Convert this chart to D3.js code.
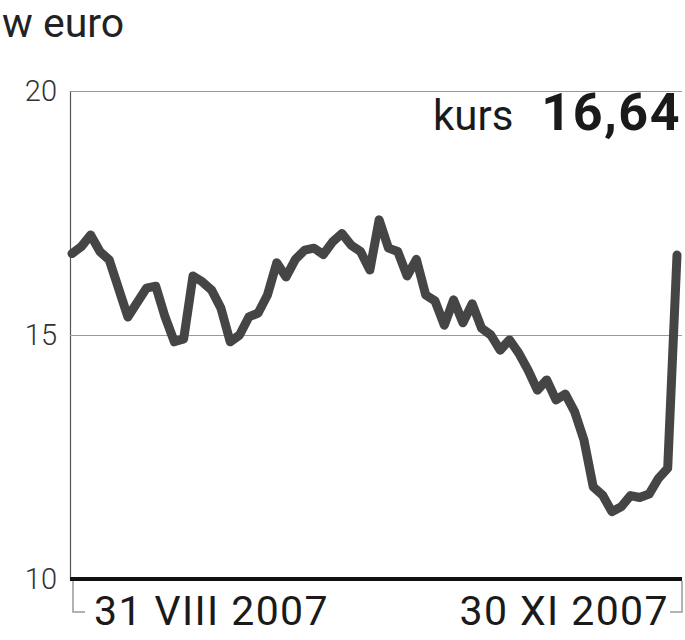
<!DOCTYPE html>
<html>
<head>
<meta charset="utf-8">
<script src="https://cdn.jsdelivr.net/npm/d3@7"></script>
<style>
	body { margin: 0; background: #fff; }
	svg { display: block; font-family: Roboto, "Open Sans", sans-serif; }
</style>
</head>
<body>
<div id="chart"></div>
<script>
"use strict";

// trading day index (0 = 31 VIII 2007, 65 = 30 XI 2007) and closing price in euro
const days = [0, 1, 2, 3, 4, 6, 8, 9, 10, 11, 12, 13, 14, 15, 16, 17, 18, 19, 20, 21,
	22, 23, 24, 25, 26, 27, 28, 29, 30, 31, 32, 33, 34, 35, 36, 37, 38, 39, 40, 41,
	42, 43, 44, 45, 46, 47, 48, 49, 50, 51, 52, 53, 54, 55, 56, 57, 58, 59, 60, 61,
	62, 63, 64, 65];
const kurs = [16.67, 16.81, 17.05, 16.71, 16.54, 15.37, 15.96, 16.0, 15.37, 14.86,
	14.92, 16.21, 16.09, 15.92, 15.55, 14.86, 15.0, 15.37, 15.45, 15.82,
	16.48, 16.19, 16.55, 16.74, 16.78, 16.65, 16.91, 17.08, 16.84, 16.71,
	16.33, 17.36, 16.78, 16.71, 16.21, 16.55, 15.82, 15.70, 15.20, 15.72,
	15.25, 15.64, 15.14, 15.0, 14.69, 14.90, 14.63, 14.28, 13.87, 14.08,
	13.67, 13.79, 13.43, 12.85, 11.89, 11.72, 11.38, 11.48, 11.71, 11.67,
	11.74, 12.06, 12.27, 16.64];
const yTicks = [10, 15, 20];
const dateLabels = ["31 VIII 2007", "30 XI 2007"];
const unitLabel = "w euro";
const lastLabel = "kurs";
const lastValue = "16,64";

const W = 685, H = 640;
const m = { left: 70, right: 682, top: 91, bottom: 579 };

const svg = d3.select("#chart").append("svg")
	.attr("width", W)
	.attr("height", H);

const x = d3.scaleLinear().domain([0, 65]).range([72, 677]);
const y = d3.scaleLinear().domain([10, 20]).range([m.bottom, m.top]);

// unit
svg.append("text")
	.attr("x", 2)
	.attr("y", 37)
	.attr("font-size", 41)
	.attr("fill", "#222")
	.text(unitLabel);

// gridlines + left axis
const yAxis = d3.axisLeft(y)
	.tickValues(yTicks)
	.tickSize(-(m.right - m.left))
	.tickPadding(13)
	.tickFormat(d3.format("d"));

const gAxis = svg.append("g")
	.attr("transform", `translate(${m.left},0)`)
	.call(yAxis);
gAxis.select(".domain").attr("stroke", "#555").attr("stroke-width", 1.2);
gAxis.selectAll(".tick line").attr("stroke", "#999").attr("stroke-width", 1.2);
gAxis.selectAll(".tick text")
	.attr("font-size", 29)
	.attr("font-weight", 300)
	.attr("fill", "#333")
	.attr("font-family", "Roboto, sans-serif");

// date bracket
const bracket = svg.append("g")
	.attr("fill", "none")
	.attr("stroke", "#999")
	.attr("stroke-width", 1.5);
bracket.append("path").attr("d", `M${m.left + 3},${m.bottom + 2}V612H85`);
bracket.append("path").attr("d", `M${m.right},${m.bottom + 2}V612H670`);

svg.append("text")
	.attr("x", 94)
	.attr("y", 625)
	.attr("font-size", 41)
	.attr("letter-spacing", 1.4)
	.attr("fill", "#1a1a1a")
	.text(dateLabels[0]);
svg.append("text")
	.attr("x", 669)
	.attr("y", 625)
	.attr("text-anchor", "end")
	.attr("font-size", 41)
	.attr("letter-spacing", 1.4)
	.attr("fill", "#1a1a1a")
	.text(dateLabels[1]);

// price line
const line = d3.line()
	.x((d, i) => x(days[i]))
	.y((d) => y(d))
	.curve(d3.curveLinear);

svg.append("path")
	.datum(kurs)
	.attr("fill", "none")
	.attr("stroke", "#454545")
	.attr("stroke-width", 9)
	.attr("stroke-linejoin", "round")
	.attr("stroke-linecap", "round")
	.attr("d", line);

// baseline
svg.append("line")
	.attr("x1", m.left)
	.attr("x2", m.right)
	.attr("y1", m.bottom)
	.attr("y2", m.bottom)
	.attr("stroke", "#111")
	.attr("stroke-width", 4);

// last value
svg.append("text")
	.attr("x", 433)
	.attr("y", 130)
	.attr("font-size", 42)
	.attr("fill", "#1a1a1a")
	.text(lastLabel);
svg.append("text")
	.attr("x", 681)
	.attr("y", 130)
	.attr("text-anchor", "end")
	.attr("font-size", 52)
	.attr("font-weight", 700)
	.attr("letter-spacing", 1.5)
	.attr("fill", "#1a1a1a")
	.text(lastValue);
</script>
</body>
</html>
